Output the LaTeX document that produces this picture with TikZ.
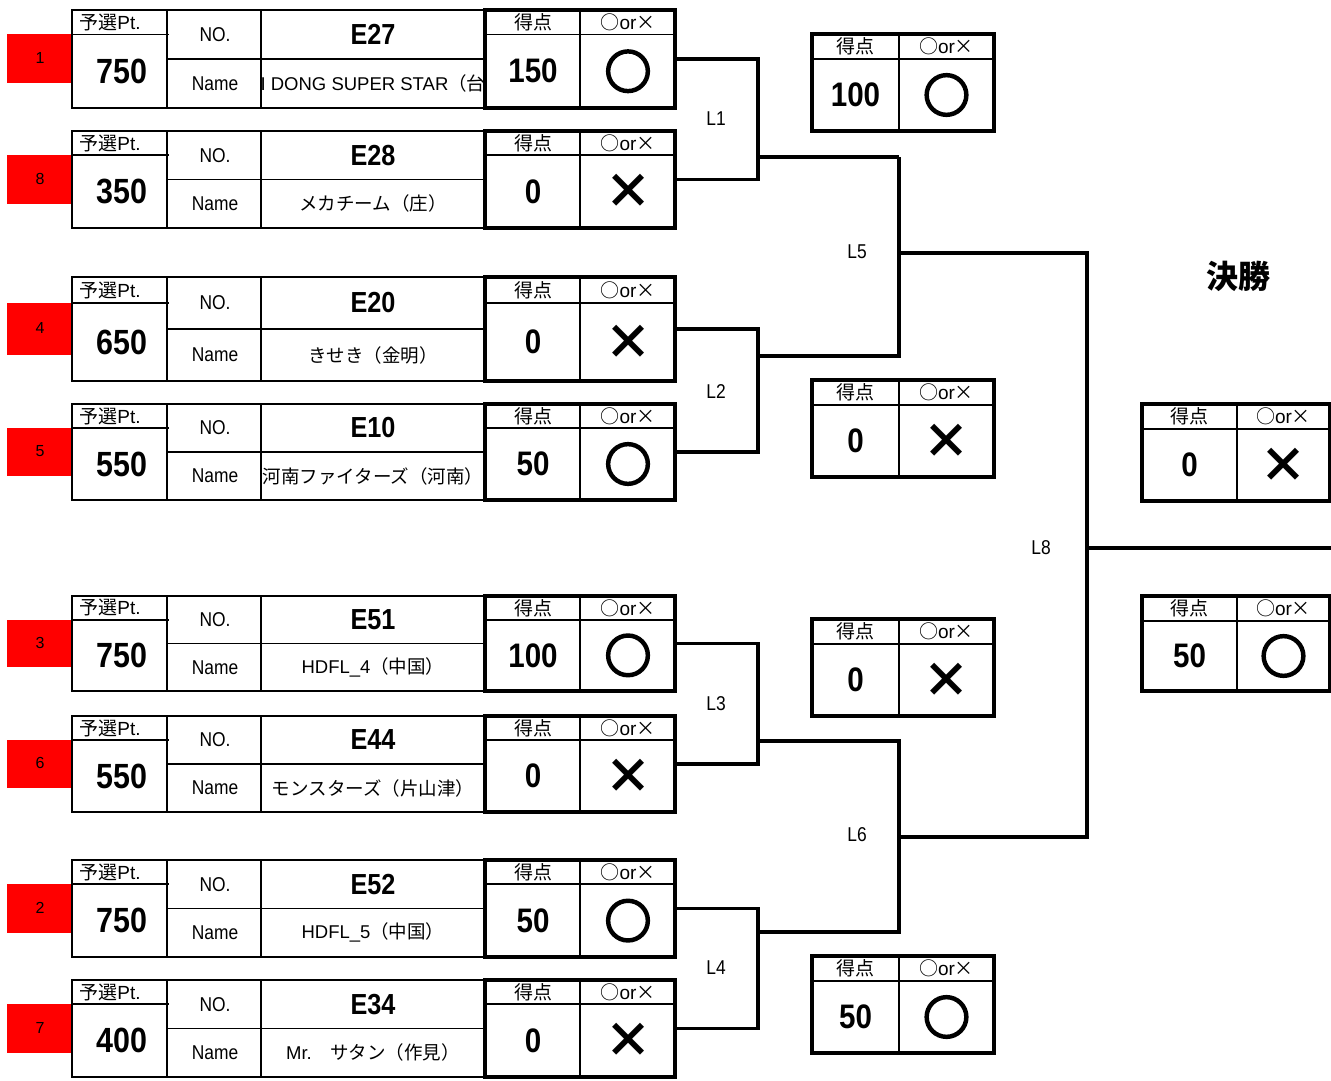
\documentclass[tikz,border=0pt]{standalone}
\usepackage{fontspec}
\setmainfont{Liberation Sans}
\newfontfamily\nar{Liberation Sans}[FakeStretch=0.87]
\newfontfamily\jp{Noto Sans CJK JP}
\newfontfamily\jpheavy{Noto Sans CJK JP}[FakeBold=6]
\newcommand\J[1]{{\jp #1}}
\newcommand\fs[1]{\fontsize{#1}{#1}\selectfont}
\newcommand\markO{{\jpheavy\fs{46}○}}
\newcommand\markX{{\jp\bfseries\fs{48}×}}
\definecolor{seedred}{RGB}{255,0,0}
\tikzset{
  thinln/.style={line width=1.8pt},
  thickln/.style={line width=3.2pt, line join=miter},
  brk/.style={line width=3.6pt, line join=miter},
  txt/.style={inner sep=0pt, anchor=center},
  seedtxt/.style={txt, font=\fs{16}},
  lbl/.style={txt, font=\nar\fs{20}},
  hdr/.style={txt, font=\fs{19}},
  bignum/.style={txt, font=\nar\bfseries\fs{35}},
  eno/.style={txt, font=\nar\bfseries\fs{29}},
  tname/.style={txt, font=\fs{18.5}},
  score/.style={txt, font=\nar\bfseries\fs{34}},
  mk/.style={txt},
  rlabel/.style={txt, font=\nar\fs{20}},
  title/.style={txt, font=\jp\bfseries\fs{32}},
}
% id, top, bottom, seed, pt, no, name, score, mark
\newcommand\teamblock[9]{%
  \pgfmathsetmacro\hH{#2+0.25*(#3-#2)}%
  \pgfmathsetmacro\hR{#2+0.75*(#3-#2)}%
  \pgfmathsetmacro\hM{(#2+#3)/2}%
  \pgfmathsetmacro\hL{(\hH+#3)/2}%
  \pgfmathsetmacro\hU{(#2+\hH)/2}%
  \pgfmathsetmacro\hUm{(#2+\hM)/2}%
  \pgfmathsetmacro\hLm{(\hM+#3)/2}%
  \fill[seedred] (7,\hH) rectangle (72,\hR);
  \node[seedtxt] (#1seed) at (40,{(\hH+\hR)/2-1}) {#4};
  \draw[thinln] (72,#2) rectangle (485,#3);
  \draw[thinln] (72,\hH) -- (169,\hH);
  \draw[thinln] (167,#2) -- (167,#3) (261,#2) -- (261,#3) (167,\hM) -- (485,\hM);
  \draw[thinln] (485,\hH) -- (675,\hH) (580,#2) -- (580,#3);
  \draw[thickln] (485,#2) rectangle (675,#3);
  \node[hdr] (#1pth) at (110,\hU) {\J{予選}Pt.};
  \node[bignum] (#1pt) at (122,\hL) {#5};
  \node[lbl] (#1nol) at (215,\hUm) {NO.};
  \node[lbl] (#1nml) at (215,\hLm) {Name};
  \node[eno] (#1no) at (373,\hUm) {#6};
  \node[tname] (#1name) at (373,\hLm) {#7};
  \node[hdr] (#1sh) at (533,\hU) {\J{得点}};
  \node[hdr] (#1mh) at (628,\hU) {\J{○}or\J{×}};
  \node[score] (#1sc) at (533,\hL) {#8};
  \node[mk] (#1mk) at (628,\hL) {#9};
  \coordinate (#1out) at (675,\hM);
}
% id, left, top, right, bottom, divider, score, mark
\newcommand\resbox[8]{%
  \pgfmathsetmacro\rH{#3+25}%
  \draw[thinln] (#2,\rH) -- (#4,\rH) (#6,#3) -- (#6,#5);
  \draw[thickln] (#2,#3) rectangle (#4,#5);
  \node[hdr] (#1sh) at ({(#2+#6)/2},{#3+12.5}) {\J{得点}};
  \node[hdr] (#1mh) at ({(#6+#4)/2},{#3+12.5}) {\J{○}or\J{×}};
  \node[score] (#1sc) at ({(#2+#6)/2},{(\rH+#5)/2}) {#7};
  \node[mk] (#1mk) at ({(#6+#4)/2},{(\rH+#5)/2}) {#8};
}
\begin{document}
\begin{tikzpicture}[x=1pt,y=-1pt]
\useasboundingbox[fill=white] (0,0) rectangle (1331,1081);

\teamblock{b1}{10}{108}{1}{750}{E27}{I DONG SUPER STAR\J{（台}}{150}{\markO}
\teamblock{b2}{131}{228}{8}{350}{E28}{\J{メカチーム（庄）}}{0}{\markX}
\teamblock{b3}{277}{381}{4}{650}{E20}{\J{きせき（金明）}}{0}{\markX}
\teamblock{b4}{404}{500}{5}{550}{E10}{\J{河南ファイターズ（河南）}}{50}{\markO}
\teamblock{b5}{596}{691}{3}{750}{E51}{HDFL\_4\J{（中国）}}{100}{\markO}
\teamblock{b6}{716}{812}{6}{550}{E44}{\J{モンスターズ（片山津）}}{0}{\markX}
\teamblock{b7}{860}{957}{2}{750}{E52}{HDFL\_5\J{（中国）}}{50}{\markO}
\teamblock{b8}{980}{1077}{7}{400}{E34}{Mr.\J{　サタン（作見）}}{0}{\markX}

\resbox{r1}{812}{34}{994}{131}{899}{100}{\markO}
\resbox{r2}{812}{380}{994}{477}{899}{0}{\markX}
\resbox{r3}{812}{619}{994}{716}{899}{0}{\markX}
\resbox{r4}{812}{956}{994}{1053}{899}{50}{\markO}
\resbox{f1}{1142}{404}{1330}{501}{1237}{0}{\markX}
\resbox{f2}{1142}{596}{1330}{691}{1237}{50}{\markO}

\node[title] (final) at (1238,276) {決勝};

% junction coordinates
\coordinate (j1) at (758,157);
\coordinate (j2) at (758,356);
\coordinate (j3) at (758,741);
\coordinate (j4) at (758,932);
\coordinate (q1) at (899,157);
\coordinate (j5) at (899,253);
\coordinate (j6) at (899,837);
\coordinate (j8) at (1087,548);
\coordinate (champ) at (1331,548);

\draw[brk] (b1out) -- ++(83,0) |- (b2out);
\draw[brk] (b3out) -- ++(83,0) |- (b4out);
\draw[brk] (b5out) -- ++(83,0) |- (b6out);
\draw[brk] (b7out) -- ++(83,0) |- (b8out);
\draw[brk] (j1) -- (q1);
\draw[brk] (j2) -| (q1);
\draw[brk] (j3) -- ++(141,0) |- (j4);
\draw[brk] (j5) -- ++(188,0) |- (j6);
\draw[brk] (j8) -- (champ);

\node[rlabel] (l1) at (716,119) {L1};
\node[rlabel] (l2) at (716,392) {L2};
\node[rlabel] (l3) at (716,704) {L3};
\node[rlabel] (l4) at (716,968) {L4};
\node[rlabel] (l5) at (857,252) {L5};
\node[rlabel] (l6) at (857,835) {L6};
\node[rlabel] (l8) at (1041,548) {L8};
\end{tikzpicture}
\end{document}
